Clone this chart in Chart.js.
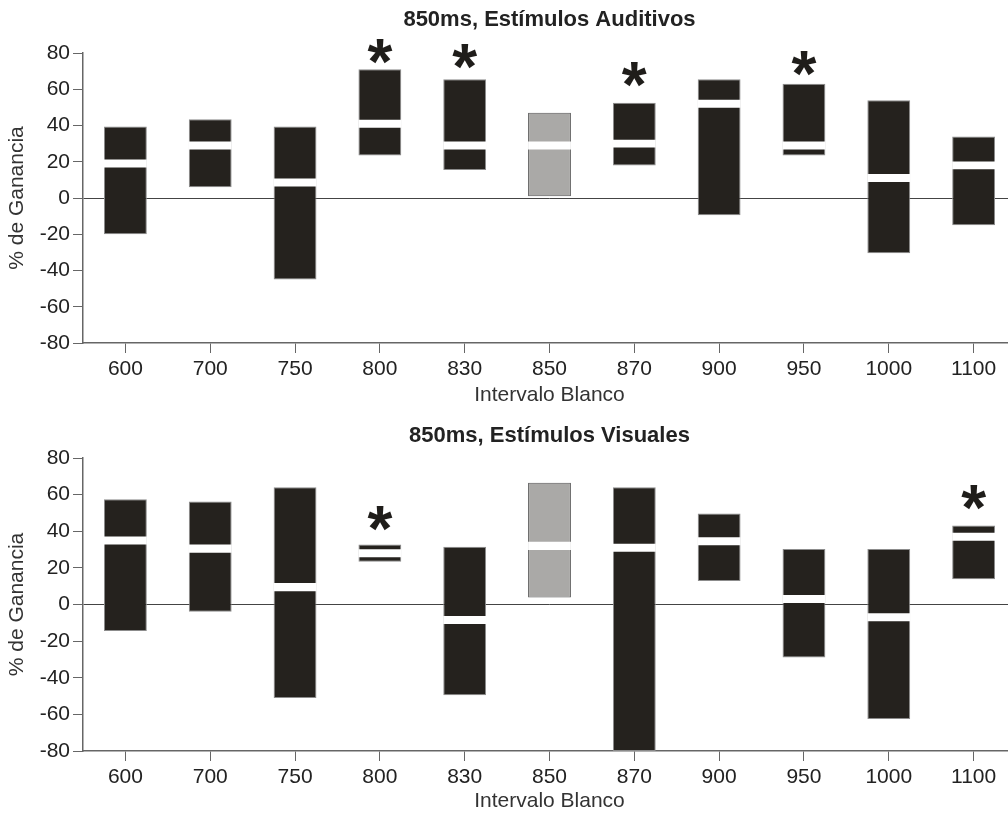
<!DOCTYPE html>
<html>
<head>
<meta charset="utf-8">
<script src="https://cdn.jsdelivr.net/npm/chart.js@4.4.1/dist/chart.umd.min.js"></script>
<style>
  html, body { margin: 0; padding: 0; background: #fff; overflow: hidden; }
  #page { position: relative; width: 1008px; height: 816px; overflow: hidden; }
  .panel { position: absolute; left: 0; width: 1100px; height: 408px; }
  #panelTop { top: 0; }
  #panelBottom { top: 408px; }
</style>
</head>
<body>
<div id="page">
  <div class="panel" id="panelTop"><canvas id="audChart" width="1100" height="408"></canvas></div>
  <div class="panel" id="panelBottom"><canvas id="visChart" width="1100" height="408"></canvas></div>
</div>
<script>
// Categories (Intervalo Blanco)
const categories = ['600', '700', '750', '800', '830', '850', '870', '900', '950', '1000', '1100'];
const yTicks = [-80, -60, -40, -20, 0, 20, 40, 60, 80];

// Auditory stimuli: box low / high and median
const audLow = [-20, 6, -45, 23.5, 15.5, 1, 18, -9.5, 23.5, -30.5, -15];
const audHigh = [39.5, 43.5, 39.5, 71, 65.5, 47, 52.5, 65.5, 63, 54, 34];
const audMedian = [19, 29, 8.5, 41, 29, 29, 30, 52, 29, 11, 18];
const audStars = [null, null, null, 82, 79.5, null, 69.5, null, 75.5, null, null];

// Visual stimuli: box low / high and median
const visLow = [-14.5, -4, -51, 23.3, -49.5, 3.8, -80, 12.8, -29, -62.5, 13.8];
const visHigh = [57.5, 56.3, 64, 32.8, 31.5, 66.5, 64, 49.7, 30.3, 30.3, 43.2];
const visMedian = [35, 30.5, 9.5, 28, -8.5, 32, 31, 34.5, 3, -7, 37];
const visStars = [null, null, null, 48.3, null, null, null, null, null, null, 59.8];

const refIndex = categories.indexOf('850'); // reference interval, drawn grey

const FONT = '"Liberation Sans", Arial, sans-serif';
const BAND = 2.2; // half height of the white median band, in % units

Chart.defaults.font.family = FONT;
Chart.defaults.color = '#222';

// draws the significance asterisks above the boxes
const starPlugin = {
    id: 'stars',
    afterDatasetsDraw(chart, args, opts) {
        const { ctx, scales: { x, y } } = chart;
        ctx.save();
        ctx.font = 'bold 64px ' + FONT;
        ctx.fillStyle = '#1f1d1a';
        ctx.textAlign = 'center';
        ctx.textBaseline = 'alphabetic';
        opts.levels.forEach((v, i) => {
            if (v === null) return;
            ctx.fillText('*', x.getPixelForValue(i), y.getPixelForValue(v) + 35);
        });
        ctx.restore();
    }
};

function makePanel(canvasId, title, low, high, median, stars, pad) {
    const boxes = low.map((lo, i) => [lo, high[i]]);
    const bands = median.map(m => [m - BAND, m + BAND]);

    return new Chart(document.getElementById(canvasId), {
        type: 'bar',
        data: {
            labels: categories,
            datasets: [
                {
                    data: bands,
                    backgroundColor: '#ffffff',
                    borderWidth: 0,
                    grouped: false,
                    order: 0,
                    barPercentage: 0.505,
                    categoryPercentage: 1
                },
                {
                    data: boxes,
                    backgroundColor: boxes.map((b, i) => i === refIndex ? '#aaa9a7' : '#25221e'),
                    borderColor: boxes.map((b, i) => i === refIndex ? '#555' : '#8c8c8c'),
                    borderWidth: 1,
                    borderSkipped: false,
                    grouped: false,
                    order: 1,
                    barPercentage: 0.505,
                    categoryPercentage: 1
                }
            ]
        },
        options: {
            responsive: false,
            devicePixelRatio: 1,
            animation: false,
            layout: { padding: { left: 0, right: 84, top: 0, bottom: 0 } },
            plugins: {
                legend: { display: false },
                tooltip: { enabled: false },
                title: {
                    display: true,
                    text: title,
                    fullSize: false,
                    color: '#222',
                    font: { size: 22, weight: 'bold' },
                    padding: { top: pad.titleTop, bottom: pad.titleBottom }
                },
                stars: { levels: stars }
            },
            scales: {
                x: {
                    offset: true,
                    grid: {
                        offset: false,
                        drawOnChartArea: false,
                        tickLength: 10,
                        tickColor: '#666'
                    },
                    border: { display: true, color: '#666', width: 1.5 },
                    ticks: { color: '#222', font: { size: 21 }, padding: 4, maxRotation: 0 },
                    title: {
                        display: true,
                        text: 'Intervalo Blanco',
                        color: '#333',
                        font: { size: 21 },
                        padding: { top: 0, bottom: pad.xTitle }
                    },
                    afterFit: s => { s.height = 65; }
                },
                y: {
                    min: -80,
                    max: 80,
                    afterBuildTicks: s => { s.ticks = yTicks.map(v => ({ value: v })); },
                    grid: {
                        drawOnChartArea: true,
                        color: c => (c.tick && c.tick.value === 0) ? '#444' : 'rgba(0,0,0,0)',
                        tickColor: '#666',
                        tickLength: 10
                    },
                    border: { display: true, color: '#666', width: 1.5 },
                    ticks: { color: '#222', font: { size: 21 }, padding: 3 },
                    title: {
                        display: true,
                        text: '% de Ganancia',
                        color: '#333',
                        font: { size: 21 },
                        padding: { top: 5, bottom: 0 }
                    },
                    afterFit: s => { s.width = 83; }
                }
            }
        },
        plugins: [starPlugin]
    });
}

makePanel('audChart', '850ms, Estímulos Auditivos', audLow, audHigh, audMedian, audStars,
    { titleTop: 7, titleBottom: 19.6, xTitle: 0 });
makePanel('visChart', '850ms, Estímulos Visuales', visLow, visHigh, visMedian, visStars,
    { titleTop: 15, titleBottom: 8.6, xTitle: 2.5 });
</script>
</body>
</html>
